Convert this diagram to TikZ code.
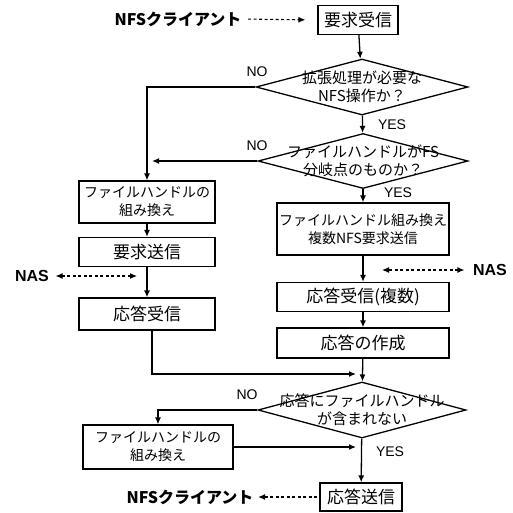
\documentclass[tikz,border=0pt]{standalone}
\usepackage{fontspec}
\setmainfont{Liberation Sans}
\newfontfamily\jp{Noto Sans CJK JP}
\usetikzlibrary{shapes.geometric,arrows.meta}
\begin{document}
\begin{tikzpicture}[x=1pt,y=-1pt,
  line width=1.3pt,
  arr/.style={draw, -{Latex[length=7pt,width=6pt]}},
  darr/.style={draw, line width=1.1pt, dash pattern=on 3pt off 2.5pt, -{Latex[length=7pt,width=6pt]}},
  ddarr/.style={draw, line width=1.1pt, dash pattern=on 3pt off 2.5pt, {Latex[length=7pt,width=6pt]}-{Latex[length=7pt,width=6pt]}},
  boxone/.style={draw, rectangle, inner sep=0pt, font=\jp\fontsize{17}{19}\selectfont, align=center},
  boxtwo/.style={draw, rectangle, inner sep=0pt, font=\jp\fontsize{14}{18}\selectfont, align=center},
  dia/.style={draw, diamond, inner sep=0pt},
  diatext/.style={font=\jp\fontsize{15}{18}\selectfont, align=center, inner sep=0pt},
  yn/.style={font=\fontsize{14}{16}\selectfont, inner sep=0pt},
  ext/.style={font=\jp\bfseries\fontsize{16}{18}\selectfont, inner sep=0pt},
  nas/.style={font=\bfseries\fontsize{16}{18}\selectfont, inner sep=0pt}
]
\useasboundingbox (0,0) rectangle (513,512);

% top
\node[ext] (nfs1) at (178,19) {NFSクライアント};
\node[boxone, minimum width=80pt, minimum height=29pt] (req) at (358,20) {要求受信};

% diamonds
\node[dia, minimum width=212pt, minimum height=56pt] (d1) at (362,87) {};
\node[diatext] (d1t) at (d1) {拡張処理が必要な\\NFS操作か？};
\node[dia, minimum width=210pt, minimum height=55pt] (d2) at (363,161) {};
\node[diatext] (d2t) at (d2) {ファイルハンドルがFS\\分岐点のものか？};
\node[dia, minimum width=208pt, minimum height=56pt] (d3) at (362,410) {};
\node[diatext] (d3t) at (d3) {応答にファイルハンドル\\が含まれない};

% left boxes
\node[boxtwo, minimum width=136pt, minimum height=42pt] (L1) at (147,202) {ファイルハンドルの\\組み換え};
\node[boxone, minimum width=136pt, minimum height=29pt] (L2) at (147,252) {要求送信};
\node[boxone, minimum width=136pt, minimum height=32pt] (L3) at (147,314) {応答受信};

% right boxes
\node[boxtwo, minimum width=172pt, minimum height=52pt] (R1) at (363,229) {ファイルハンドル組み換え\\複数NFS要求送信};
\node[boxone, minimum width=172pt, minimum height=29pt] (R2) at (363,297) {応答受信(複数)};
\node[boxone, minimum width=172pt, minimum height=30pt] (R3) at (363,343) {応答の作成};

% bottom
\node[boxtwo, minimum width=150pt, minimum height=44pt] (L4) at (158,447) {ファイルハンドルの\\組み換え};
\node[boxone, minimum width=82pt, minimum height=28pt] (send) at (361,497) {応答送信};
\node[ext] (nfs2) at (190,497) {NFSクライアント};

% NAS
\node[nas] (nasL) at (32,276) {NAS};
\coordinate (nasLend) at (137,276);
\node[nas] (nasR) at (490,270) {NAS};
\coordinate (nasRend) at (382,270);

% labels
\node[yn] (no1) at (257,72) {NO};
\node[yn] (yes1) at (392,125) {YES};
\node[yn] (no2) at (257,146) {NO};
\node[yn] (yes2) at (398,193) {YES};
\node[yn] (no3) at (247,395) {NO};
\node[yn] (yes3) at (390,452) {YES};

% connectors
\draw[darr, shorten <=6pt, shorten >=12pt] (nfs1.east) -- (req.west);
\draw[arr] (req) -- (d1);
\draw[arr] (d1) -- (d2);
\draw[arr] (d1.west) -| (L1.north);
\draw[arr] (d2.west) -- ([xshift=5pt]L1.north |- d2.west);
\draw[arr] (d2) -- (R1);
\draw[arr] (L1) -- (L2);
\draw[arr] (L2) -- (L3);
\draw[arr] (R1) -- (R2);
\draw[arr] (R2) -- (R3);
\draw[arr] (R3) -- (d3);
\coordinate (m1) at (356,374);
\draw[arr] ([xshift=5pt]L3.south) |- (m1);
\draw[arr] (d3.west) -| (L4.north);
\coordinate (m2) at (356,447);
\draw[arr] (L4.east) -- (m2);
\draw[arr] (d3) -- (send);
\draw[darr, shorten <=2pt, shorten >=4pt] (send.west) -- (nfs2.east);
\draw[ddarr, shorten <=6pt] (nasL.east) -- (nasLend);
\draw[ddarr, shorten <=8pt] (nasR.west) -- (nasRend);
\end{tikzpicture}
\end{document}
